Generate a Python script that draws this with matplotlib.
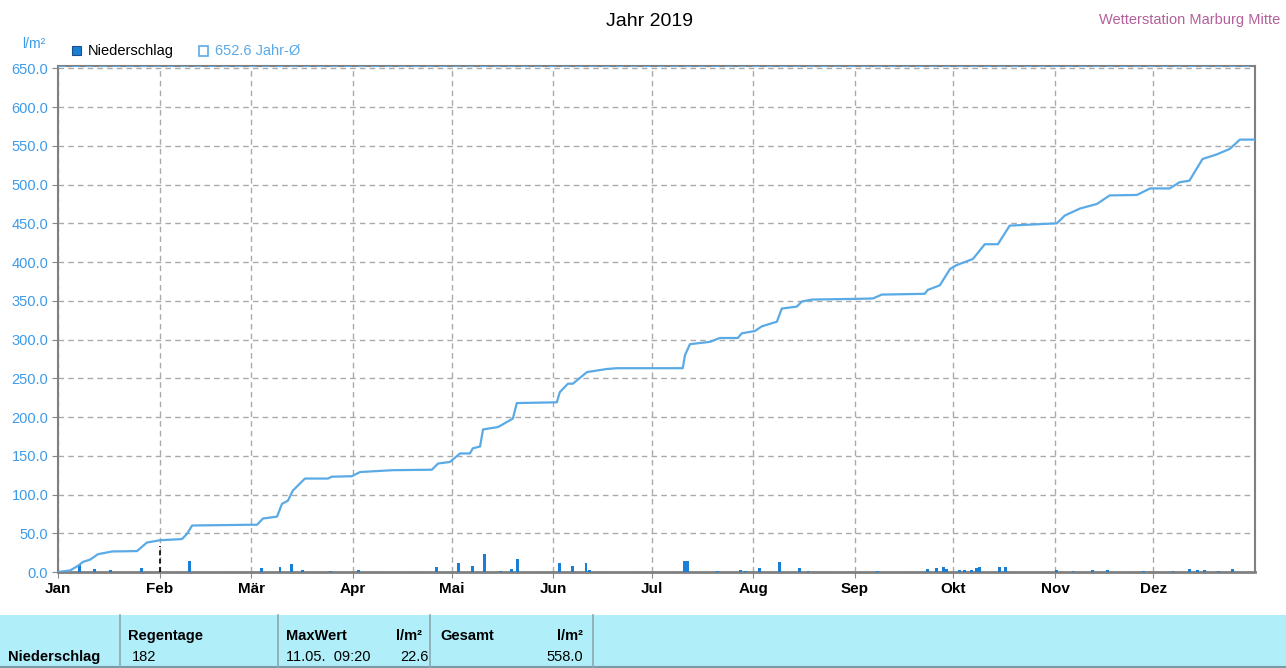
import matplotlib
matplotlib.use("Agg")
import matplotlib.pyplot as plt
import matplotlib.patches as patches
import numpy as np

plt.rcParams['font.family'] = ['Liberation Sans Narrow', 'Liberation Sans', 'DejaVu Sans']

# month labels and first day of month (day of year, Jan 1 = 0)
months = ["Jan", "Feb", "Mär", "Apr", "Mai", "Jun", "Jul", "Aug", "Sep", "Okt", "Nov", "Dez"]
month_start = [0, 31, 59, 90, 120, 151, 181, 212, 243, 273, 304, 334]

# cumulative precipitation: day of year, l/m²
cum_day = [0, 3.7, 6.1, 7.6, 9.8, 12.2, 16.5, 24.1, 27.1, 31.1, 37.8, 39.3, 40.9,
           59.1, 60.7, 62.5, 66.8, 68.3, 70.1, 71.6, 75.3, 82.3, 83.5, 89.6, 92.1,
           102.1, 114, 115.9, 119.5, 122.6, 125.6, 126.5, 128.7, 129.6, 134.1,
           135.4, 138.7, 139.9, 152.1, 153, 155.5, 157, 161.3, 167.4, 170.4, 190.5,
           191.2, 192.7, 198.8, 201.8, 207.3, 208.5, 212.5, 214.6, 219.2, 220.7,
           225.3, 226.8, 229.9, 243.6, 248.5, 251.2, 264.3, 265.2, 268.9, 272, 274,
           279, 282.6, 286.6, 290.2, 304.6, 307, 311.6, 316.8, 320.7, 329, 333, 339,
           342, 345, 349, 353.4, 357.3, 360.4, 364.9]
cum_val = [0, 2, 8, 13, 16, 23, 26.5, 27, 38, 41, 42.5, 49, 60,
           61, 61, 69, 71.5, 88, 92, 105, 120.6, 120.6, 123, 123.6, 129,
           131.4, 132, 140, 142, 153, 153, 159.6, 162, 184, 187,
           190, 198, 218, 219, 232, 243, 243, 258, 262, 263, 263,
           280, 294, 297, 302, 302, 308, 311, 317, 323, 340,
           342.5, 349, 351.6, 352.5, 353, 358, 359, 364, 370, 391, 396,
           404, 423, 423, 447, 450, 460, 469, 475, 486, 486.6, 495, 495,
           503, 505, 533, 539, 546, 558, 558]

# single precipitation values (bars): day of year, l/m²
bar_day = [6.5, 11, 16, 25.6, 40, 62, 67.7, 71.3, 74.7, 83, 91.5, 115.5, 122, 126.5, 130,
           134.8, 138.4, 140, 153, 157, 161, 162, 191, 192, 201, 208, 209.5, 214, 220,
           226, 228.7, 250, 265, 268, 270, 271, 275, 276.5, 278.6, 280, 281, 287, 289,
           304.6, 309.5, 315.5, 320, 331, 340, 345, 347.5, 349.7, 354, 358]
bar_val = [8.6, 4, 2, 5.6, 14, 5.6, 6.4, 10, 2, 1.3, 2, 6.4, 11.6, 7.3, 22.6,
           1.3, 4, 17, 11.6, 8, 11.6, 3, 14, 14, 1.3, 2, 1.3, 5.6, 13,
           5.6, 1.3, 1, 4, 5.6, 6.4, 4, 2, 3, 2, 5, 6.4, 7, 7,
           2, 1.5, 2, 2, 1.5, 1.5, 3.4, 3, 2, 1.5, 3.4]

year_mean = 652.6
y_ticks = np.arange(0, 651, 50)

bar_color = "#1a7fd4"
line_color = "#5aaae6"
tick_blue = "#3d9be9"

fig = plt.figure(figsize=(12.86, 6.68), dpi=100)
ax = fig.add_axes([58 / 1286, 1 - 572 / 668, (1255 - 58) / 1286, (572 - 66) / 668])

ax.bar(bar_day, bar_val, width=0.9, color=bar_color, zorder=3)
ax.plot(cum_day, cum_val, color=line_color, lw=1.6, zorder=4)
ax.axhline(year_mean, color="#5aaae6", lw=1.4, ls=(0, (4, 3)), zorder=5)
# cursor marker at Feb 1
ax.plot([31, 31], [0, 33], color="black", lw=1.2, ls=(0, (3, 2)), zorder=5)

ax.set_xlim(0, 365)
ax.set_ylim(0, 653)
ax.set_xticks(month_start)
ax.set_xticklabels(months, fontsize=11, fontweight="bold")
ax.set_yticks(y_ticks)
ax.set_yticklabels([f"{v:.1f}" for v in y_ticks], fontsize=10.5, color=tick_blue)
ax.tick_params(axis="both", length=4, color="#888888", pad=3)
ax.grid(True, color="#aaaaaa", ls=(0, (4, 3)), lw=1.0)
ax.set_axisbelow(True)
for side in ["left", "bottom", "right", "top"]:
    ax.spines[side].set_color("#808080")
    ax.spines[side].set_linewidth(1.5)
ax.spines["bottom"].set_linewidth(2)

# titles
fig.text(650 / 1286, 1 - 22 / 668, "Jahr 2019", ha="center", va="center", fontsize=14)
fig.text(1280 / 1286, 1 - 20 / 668, "Wetterstation Marburg Mitte", ha="right", va="center",
         fontsize=10.5, color="#b4609a")
fig.text(22 / 1286, 1 - 44 / 668, "l/m²", ha="left", va="center", fontsize=10, color=tick_blue)

# legend
fig.patches.append(patches.Rectangle((72 / 1286, 1 - 55 / 668), 9 / 1286, 9 / 668,
                                     transform=fig.transFigure, facecolor=bar_color,
                                     edgecolor="#1a4f8a", lw=0.8))
fig.text(88 / 1286, 1 - 51 / 668, "Niederschlag", ha="left", va="center", fontsize=10.5)
fig.patches.append(patches.Rectangle((199 / 1286, 1 - 56 / 668), 9 / 1286, 10 / 668,
                                     transform=fig.transFigure, facecolor="white",
                                     edgecolor=line_color, lw=1.2))
fig.text(215 / 1286, 1 - 51 / 668, f"{year_mean:.1f} Jahr-Ø", ha="left", va="center",
         fontsize=10.5, color=line_color)

# bottom info band
fig.patches.append(patches.Rectangle((0, 0), 1, 53 / 668, transform=fig.transFigure,
                                     facecolor="#b0eefa", edgecolor="none", zorder=0))
fig.add_artist(plt.Line2D([0, 1], [1.5 / 668, 1.5 / 668], transform=fig.transFigure,
                          color="#7a9aa6", lw=1.5))
for xs in [120, 278, 430, 593]:
    fig.add_artist(plt.Line2D([xs / 1286, xs / 1286], [0, 53 / 668], transform=fig.transFigure,
                              color="#8aa8b2", lw=1.2))

def band_text(x, y, s, ha="left", bold=False):
    fig.text(x / 1286, 1 - y / 668, s, ha=ha, va="center", fontsize=10.5,
             fontweight="bold" if bold else "normal")

band_text(8, 657, "Niederschlag", bold=True)
band_text(128, 636, "Regentage", bold=True)
band_text(132, 657, "182")
band_text(286, 636, "MaxWert", bold=True)
band_text(422, 636, "l/m²", ha="right", bold=True)
band_text(286, 657, "11.05.  09:20")
band_text(400, 657, "22.6")
band_text(440, 636, "Gesamt", bold=True)
band_text(583, 636, "l/m²", ha="right", bold=True)
band_text(583, 657, "558.0", ha="right")

fig.savefig("out.png", dpi=100)
